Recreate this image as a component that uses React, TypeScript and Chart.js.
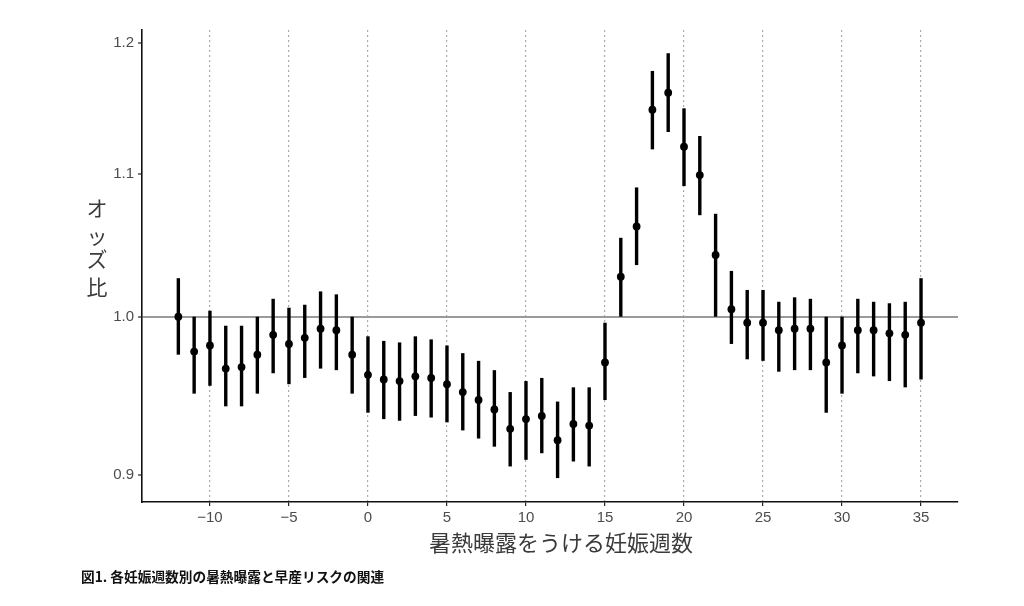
import React, { useEffect, useRef } from "react";
import { Chart, registerables } from "chart.js";

Chart.register(...registerables);

const weeks = [
  -12, -11, -10, -9, -8, -7, -6, -5, -4, -3, -2, -1, 0, 1, 2, 3, 4, 5, 6, 7, 8, 9, 10, 11, 12, 13, 14, 15,
  16, 17, 18, 19, 20, 21, 22, 23, 24, 25, 26, 27, 28, 29, 30, 31, 32, 33, 34, 35,
];

const oddsRatio = [
  1.0, 0.977, 0.981, 0.966, 0.967, 0.975, 0.988, 0.982, 0.986, 0.992, 0.991, 0.975, 0.962, 0.959, 0.958,
  0.961, 0.96, 0.956, 0.951, 0.946, 0.94, 0.928, 0.934, 0.936, 0.921, 0.931, 0.93, 0.97, 1.027, 1.062,
  1.148, 1.161, 1.12, 1.099, 1.042, 1.005, 0.996, 0.996, 0.991, 0.992, 0.992, 0.97, 0.981, 0.991, 0.991,
  0.989, 0.988, 0.996,
];

const lowerCI = [
  0.975, 0.95, 0.955, 0.942, 0.942, 0.95, 0.963, 0.956, 0.96, 0.966, 0.965, 0.95, 0.938, 0.934, 0.933,
  0.936, 0.935, 0.932, 0.927, 0.922, 0.917, 0.905, 0.909, 0.913, 0.898, 0.908, 0.905, 0.946, 1.0, 1.035,
  1.118, 1.131, 1.091, 1.07, 1.0, 0.982, 0.972, 0.971, 0.964, 0.965, 0.965, 0.938, 0.95, 0.963, 0.961,
  0.958, 0.954, 0.959,
];

const upperCI = [
  1.026, 1.0, 1.004, 0.994, 0.994, 1.0, 1.012, 1.006, 1.008, 1.017, 1.015, 1.0, 0.987, 0.984, 0.983,
  0.987, 0.985, 0.981, 0.976, 0.971, 0.965, 0.951, 0.958, 0.96, 0.945, 0.954, 0.954, 0.996, 1.054, 1.09,
  1.178, 1.192, 1.149, 1.128, 1.071, 1.031, 1.018, 1.018, 1.01, 1.013, 1.012, 1.0, 1.0, 1.012, 1.01,
  1.009, 1.01, 1.026,
];

const xTicks = [-10, -5, 0, 5, 10, 15, 20, 25, 30, 35];
const yTicks = [0.9, 1.0, 1.1, 1.2];
const referenceLine = 1.0;

const xTitle = "暑熱曝露をうける妊娠週数";
const yTitleChars = ["オ", "ッ", "ズ", "比"];
const caption = "図1. 各妊娠週数別の暑熱曝露と早産リスクの関連";

const JP = '"Noto Sans CJK JP", "Noto Sans", sans-serif';
const NUM = '"Liberation Sans", Arial, sans-serif';

const errorBarPlugin = {
  id: "errorBars",
  beforeDatasetsDraw(chart: any) {
    const { ctx, chartArea } = chart;
    const xs = chart.scales.x;
    const ys = chart.scales.y;
    ctx.save();
    ctx.beginPath();
    ctx.rect(chartArea.left, chartArea.top, chartArea.right - chartArea.left, chartArea.bottom - chartArea.top);
    ctx.clip();
    ctx.strokeStyle = "#000";
    ctx.lineWidth = 3.4;
    ctx.lineCap = "butt";
    weeks.forEach((w, i) => {
      const px = xs.getPixelForValue(w);
      ctx.beginPath();
      ctx.moveTo(px, ys.getPixelForValue(lowerCI[i]));
      ctx.lineTo(px, ys.getPixelForValue(upperCI[i]));
      ctx.stroke();
    });
    ctx.restore();
  },
};

const textPlugin = {
  id: "texts",
  afterDraw(chart: any) {
    const { ctx } = chart;
    ctx.save();
    ctx.fillStyle = "#3a3a3a";
    ctx.textAlign = "center";
    ctx.textBaseline = "middle";
    ctx.font = `21px ${JP}`;
    const ys = [208, 236, 259, 287];
    yTitleChars.forEach((c, i) => ctx.fillText(c, 97, ys[i]));
    ctx.font = `22px ${JP}`;
    ctx.fillText(xTitle, 561, 543);
    ctx.fillStyle = "#111";
    ctx.textAlign = "left";
    ctx.font = `bold 13.7px ${JP}`;
    ctx.fillText(caption, 81, 577);
    ctx.restore();
  },
};

export default function App() {
  const ref = useRef<HTMLCanvasElement | null>(null);

  useEffect(() => {
    if (!ref.current) return;
    const chart = new Chart(ref.current, {
      type: "scatter",
      data: {
        datasets: [
          {
            data: weeks.map((w, i) => ({ x: w, y: oddsRatio[i] })),
            backgroundColor: "#000",
            borderColor: "#000",
            borderWidth: 0,
            pointRadius: 3.9,
            pointHoverRadius: 3.9,
          },
        ],
      },
      options: {
        animation: false,
        responsive: false,
        maintainAspectRatio: false,
        layout: { padding: { left: 0, top: 30, right: 66, bottom: 0 } },
        plugins: {
          legend: { display: false },
          tooltip: { enabled: false },
          title: { display: false },
        },
        scales: {
          x: {
            type: "linear",
            bounds: "data",
            min: -14.3,
            max: 37.34,
            afterBuildTicks: (scale: any) => {
              scale.ticks = xTicks.map((v) => ({ value: v }));
            },
            afterFit: (scale: any) => {
              scale.height = 104;
            },
            ticks: {
              autoSkip: false,
              maxRotation: 0,
              padding: 3,
              color: "#4d4d4d",
              font: { family: NUM, size: 15 },
              callback: (v: any) => {
                const n = Number(v);
                return n < 0 ? "\u2212" + Math.abs(n) : String(n);
              },
            },
            grid: {
              color: "#ababab",
              lineWidth: 1.2,
              drawTicks: true,
              tickLength: 4,
              tickColor: "#222",
              tickWidth: 1.2,
            },
            border: { display: true, color: "#111", width: 1.6, dash: [2, 3] },
          },
          y: {
            type: "logarithmic",
            bounds: "data",
            min: 0.8838,
            max: 1.2106,
            afterBuildTicks: (scale: any) => {
              scale.ticks = yTicks.map((v) => ({ value: v }));
            },
            afterFit: (scale: any) => {
              scale.width = 142;
            },
            ticks: {
              autoSkip: false,
              padding: 4,
              color: "#4d4d4d",
              font: { family: NUM, size: 15 },
              callback: (v: any) => Number(v).toFixed(1),
            },
            grid: {
              color: (c: any) => (c.tick && Math.abs(c.tick.value - referenceLine) < 1e-9 ? "#9a9a9a" : "rgba(0,0,0,0)"),
              lineWidth: 2,
              drawTicks: true,
              tickLength: 4,
              tickColor: "#222",
              tickWidth: 1.2,
            },
            border: { display: true, color: "#111", width: 1.6 },
          },
        },
      },
      plugins: [errorBarPlugin, textPlugin],
    });
    return () => chart.destroy();
  }, []);

  return (
    <div style={{ position: "absolute", left: 0, top: 0, width: 1024, height: 606, background: "#fff" }}>
      <canvas ref={ref} width={1024} height={606} style={{ width: 1024, height: 606, display: "block" }} />
    </div>
  );
}
